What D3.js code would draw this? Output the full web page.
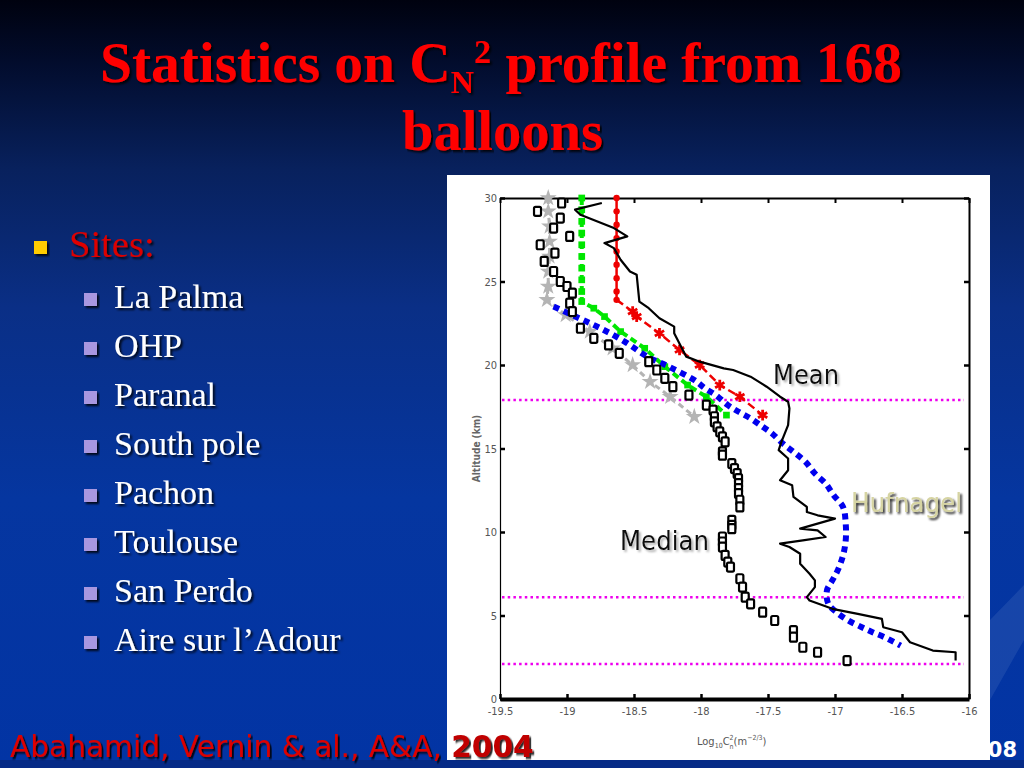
<!DOCTYPE html>
<html>
<head>
<meta charset="utf-8">
<script src="https://cdn.jsdelivr.net/npm/d3@7"></script>
<style>
  body { margin: 0; padding: 0; overflow: hidden; }
  svg { display: block; }
</style>
</head>
<body>
<svg id="slide" width="1024" height="768"></svg>
<script>
// ---- data: [log10 Cn2, altitude km] ----
const sites = ["La Palma", "OHP", "Paranal", "South pole", "Pachon", "Toulouse", "San Perdo", "Aire sur l\u2019Adour"];

const xTicks = [-19.5, -19, -18.5, -18, -17.5, -17, -16.5, -16];
const yTicks = [0, 5, 10, 15, 20, 25, 30];

// reference layers (km)
const layerAlts = [17.9, 6.1, 2.1];

const grayPts = [[-19.14,30],[-19.14,29.2],[-19.13,28.3],[-19.13,27.4],[-19.13,26.5],[-19.14,25.6],[-19.14,24.7],
  [-19.15,23.9],[-19.01,23.0],[-18.83,22.0],[-18.66,21.0],[-18.51,20.0],[-18.38,19.0],[-18.23,18.1],[-18.05,16.9]];

const greenPts = [[-18.89,30],[-18.89,29.3],[-18.89,28.6],[-18.89,27.9],[-18.89,27.2],[-18.89,26.5],[-18.89,25.8],
  [-18.89,25.1],[-18.89,24.4],[-18.89,23.8],[-18.80,23.4],[-18.72,22.9],[-18.60,22.0],[-18.42,21.0],[-18.27,19.9],
  [-18.10,18.8],[-17.96,18.1],[-17.81,17.0]];

const redPts = [[-18.63,30],[-18.63,29.2],[-18.63,28.4],[-18.63,27.6],[-18.63,26.8],[-18.63,26.0],[-18.63,25.2],
  [-18.63,24.4],[-18.63,23.9],[-18.51,23.2],[-18.48,22.9],[-18.31,21.9],[-18.16,20.9],[-18.01,20.0],[-17.86,18.8],
  [-17.71,18.1],[-17.54,17.0]];

const hufnagelPts = [[-19.10,23.5],[-18.91,22.8],[-18.75,22.2],[-18.57,21.4],[-18.40,20.5],[-18.24,19.9],[-18.05,19.1],
  [-17.97,18.6],[-17.89,18.2],[-17.80,17.6],[-17.72,17.2],[-17.63,16.8],[-17.54,16.3],[-17.47,15.9],[-17.39,15.3],
  [-17.31,14.8],[-17.22,14.2],[-17.15,13.5],[-17.07,12.9],[-17.01,12.2],[-16.94,11.5],[-16.92,10.5],[-16.92,9.5],
  [-16.94,8.6],[-16.98,7.7],[-17.02,7.1],[-17.06,6.5],[-17.05,5.7],[-16.99,5.2],[-16.90,4.7],[-16.80,4.3],
  [-16.72,4.0],[-16.63,3.7],[-16.51,3.2]];

const meanPts = [[-18.74,29.7],[-18.94,29.3],[-18.90,29.0],[-18.65,28.2],[-18.55,27.7],[-18.72,27.3],[-18.65,27.0],
  [-18.60,26.3],[-18.53,25.6],[-18.48,25.4],[-18.46,23.8],[-18.39,23.4],[-18.31,22.8],[-18.20,22.3],[-18.20,21.9],
  [-18.11,20.5],[-18.01,20.2],[-17.83,19.8],[-17.76,19.7],[-17.63,19.3],[-17.51,18.7],[-17.41,18.1],[-17.35,17.8],
  [-17.34,17.4],[-17.35,16.4],[-17.40,15.4],[-17.42,14.9],[-17.35,14.4],[-17.35,13.7],[-17.41,13.1],[-17.32,12.8],
  [-17.31,12.1],[-17.21,11.5],[-17.21,11.2],[-17.13,11.0],[-17.00,10.8],[-17.26,10.2],[-17.13,10.1],[-17.07,9.7],
  [-17.24,9.5],[-17.41,9.3],[-17.34,9.1],[-17.26,8.7],[-17.26,8.1],[-17.19,7.5],[-17.15,7.1],[-17.15,6.7],
  [-17.21,6.1],[-17.19,5.9],[-17.02,5.4],[-16.83,5.1],[-16.65,4.8],[-16.64,4.3],[-16.50,4.0],[-16.44,3.4],
  [-16.27,2.9],[-16.10,2.8],[-16.10,2.3]];

const medianPts = [[-19.04,29.7],[-19.22,29.2],[-19.05,28.8],[-19.10,28.2],[-18.98,27.7],[-19.20,27.2],[-19.09,26.7],
  [-19.17,26.2],[-19.10,25.6],[-19.05,25.0],[-19.00,24.7],[-18.96,24.3],[-18.98,23.7],[-18.96,23.2],[-18.90,22.2],
  [-18.80,21.6],[-18.69,21.2],[-18.61,20.7],[-18.39,20.2],[-18.33,19.7],[-18.27,19.2],[-18.21,18.7],[-18.09,18.2],
  [-17.96,17.6],[-17.91,17.3],[-17.90,16.9],[-17.90,16.6],[-17.88,16.3],[-17.86,16.0],[-17.84,15.7],[-17.82,15.4],
  [-17.84,14.8],[-17.84,14.6],[-17.77,14.1],[-17.75,13.8],[-17.73,13.5],[-17.72,13.2],[-17.72,12.9],[-17.72,12.6],
  [-17.72,12.3],[-17.71,11.9],[-17.71,11.5],[-17.77,10.7],[-17.77,10.4],[-17.77,10.2],[-17.84,9.7],[-17.84,9.4],
  [-17.84,9.1],[-17.82,8.6],[-17.80,8.2],[-17.78,7.9],[-17.71,7.2],[-17.69,6.7],[-17.67,6.1],[-17.63,5.7],
  [-17.54,5.2],[-17.45,4.7],[-17.31,4.1],[-17.31,3.7],[-17.24,3.1],[-17.13,2.8],[-16.91,2.3]];

// ---- slide ----
const svg = d3.select("#slide");
const defs = svg.append("defs");

const bg = defs.append("linearGradient").attr("id", "bg").attr("x1", 0).attr("y1", 0).attr("x2", 0).attr("y2", 1);
[["0%", "#00020f"], ["8%", "#020c2c"], ["22%", "#08215d"], ["40%", "#0a2f86"], ["65%", "#0536a0"], ["100%", "#0234a4"]]
  .forEach(s => bg.append("stop").attr("offset", s[0]).attr("stop-color", s[1]));

const sh = defs.append("filter").attr("id", "shadow").attr("x", "-10%").attr("y", "-20%").attr("width", "130%").attr("height", "150%");
sh.append("feDropShadow").attr("dx", 2).attr("dy", 2).attr("stdDeviation", 0.8).attr("flood-color", "#000000").attr("flood-opacity", 0.85);

const shLight = defs.append("filter").attr("id", "shadowLight").attr("x", "-10%").attr("y", "-20%").attr("width", "130%").attr("height", "150%");
shLight.append("feDropShadow").attr("dx", 2).attr("dy", 2).attr("stdDeviation", 0.8).attr("flood-color", "#999999").attr("flood-opacity", 0.8);

svg.append("rect").attr("width", 1024).attr("height", 768).attr("fill", "url(#bg)");
svg.append("path").attr("d", "M990,620 L1024,585 L1024,640 L990,700 Z").attr("fill", "#3b63b8").attr("opacity", 0.35);
svg.append("rect").attr("y", 760).attr("width", 1024).attr("height", 8).attr("fill", "#062a86");

// fit a text node to a given width by horizontal scaling
function fitWidth(sel, x, w) {
  const bb = sel.node().getBBox();
  const k = w / bb.width;
  sel.attr("transform", `translate(${x},0) scale(${k},1) translate(${-bb.x},0)`);
}

// title
const t1 = svg.append("text").attr("y", 82)
  .attr("font-family", "'Liberation Serif', 'Times New Roman', serif").attr("font-weight", "bold")
  .attr("font-size", 57).attr("fill", "#ff0000").attr("filter", "url(#shadow)");
t1.append("tspan").text("Statistics on C");
t1.append("tspan").attr("font-size", 32).attr("dy", 11).text("N");
t1.append("tspan").attr("font-size", 34).attr("dy", -30).text("2");
t1.append("tspan").attr("dy", 19).text(" profile from 168");
fitWidth(t1, 100, 802);

const t2 = svg.append("text").attr("y", 150)
  .attr("font-family", "'Liberation Serif', 'Times New Roman', serif").attr("font-weight", "bold")
  .attr("font-size", 57).attr("fill", "#ff0000").attr("filter", "url(#shadow)").text("balloons");
fitWidth(t2, 402, 201);

// bullets
svg.append("rect").attr("x", 34).attr("y", 241).attr("width", 13).attr("height", 13)
  .attr("fill", "#ffcc00").attr("filter", "url(#shadow)");
svg.append("text").attr("x", 69).attr("y", 257)
  .attr("font-family", "'Liberation Serif', serif").attr("font-size", 38.5)
  .attr("fill", "#dd0000").attr("filter", "url(#shadow)").text("Sites:");

const siteY = d3.scalePoint().domain(sites).range([308, 651]);
const items = svg.append("g").selectAll("g").data(sites).join("g");
items.append("rect").attr("x", 84).attr("y", d => siteY(d) - 15).attr("width", 13).attr("height", 13)
  .attr("fill", "#a897e0").attr("filter", "url(#shadow)");
items.append("text").attr("x", 114).attr("y", d => siteY(d))
  .attr("font-family", "'Liberation Serif', serif").attr("font-size", 34)
  .attr("fill", "#ffffff").attr("filter", "url(#shadow)").text(d => d);

svg.append("text").attr("x", 1017).attr("y", 757).attr("text-anchor", "end")
  .attr("font-family", "'DejaVu Sans', Verdana, sans-serif").attr("font-weight", "bold")
  .attr("font-size", 21).attr("fill", "#ffffff").text("2008");

// ---- chart ----
svg.append("rect").attr("x", 447).attr("y", 175).attr("width", 543).attr("height", 585).attr("fill", "#ffffff");

const margin = { left: 500, right: 969, top: 198, bottom: 699 };
const x = d3.scaleLinear().domain([-19.5, -16]).range([margin.left, margin.right]);
const y = d3.scaleLinear().domain([0, 30]).range([margin.bottom, margin.top]);

const chart = svg.append("g");
const tickFont = "'Liberation Sans Narrow', 'DejaVu Sans Condensed', 'Liberation Sans', sans-serif";

// axes
chart.append("g").attr("transform", `translate(0,${margin.bottom})`)
  .call(d3.axisBottom(x).tickValues(xTicks).tickSizeInner(-5).tickSizeOuter(0).tickPadding(8).tickFormat(d => String(d)))
  .call(g => g.select(".domain").attr("stroke-width", 4))
  .call(g => g.selectAll(".tick line").attr("stroke-width", 2.5))
  .call(g => g.selectAll("text").attr("font-family", tickFont).attr("font-size", 11).attr("fill", "#555"));

chart.append("g").attr("transform", `translate(${margin.left},0)`)
  .call(d3.axisLeft(y).tickValues(yTicks).tickSizeInner(-5).tickSizeOuter(0).tickPadding(3))
  .call(g => g.selectAll(".tick line").attr("stroke-width", 2.5))
  .call(g => g.select(".domain").attr("stroke-width", 1.2))
  .call(g => g.selectAll("text").attr("font-family", tickFont).attr("font-size", 11).attr("fill", "#555"));

chart.append("g").attr("transform", `translate(0,${margin.top})`)
  .call(d3.axisTop(x).tickValues(xTicks).tickSizeInner(-5).tickSizeOuter(0).tickFormat(""))
  .call(g => g.select(".domain").attr("stroke-width", 2))
  .call(g => g.selectAll(".tick line").attr("stroke-width", 2));

chart.append("g").attr("transform", `translate(${margin.right},0)`)
  .call(d3.axisRight(y).tickValues(yTicks).tickSizeInner(-5).tickSizeOuter(0).tickFormat(""))
  .call(g => g.select(".domain").attr("stroke-width", 2))
  .call(g => g.selectAll(".tick line").attr("stroke-width", 2.5));

// axis titles
chart.append("text").attr("transform", `translate(480,${y(15)}) rotate(-90)`)
  .attr("text-anchor", "middle").attr("font-family", tickFont).attr("font-size", 10).attr("font-weight", "bold")
  .attr("fill", "#666").text("Altitude (km)");

const xl = chart.append("text").attr("x", 697).attr("y", 745)
  .attr("font-family", tickFont).attr("font-size", 11).attr("fill", "#555");
xl.append("tspan").text("Log");
xl.append("tspan").attr("font-size", 7).attr("dy", 3).text("10");
xl.append("tspan").attr("dy", -3).text("C");
xl.append("tspan").attr("font-size", 7).attr("dy", -5).text("2");
xl.append("tspan").attr("font-size", 7).attr("dx", -4).attr("dy", 9).text("n");
xl.append("tspan").attr("dy", -4).text("(m");
xl.append("tspan").attr("font-size", 7).attr("dy", -5).text("\u22122/3");
xl.append("tspan").attr("dy", 5).text(")");

// reference layers
chart.append("g").selectAll("line").data(layerAlts).join("line")
  .attr("x1", x(-19.5) + 2).attr("x2", 964).attr("y1", d => y(d)).attr("y2", d => y(d))
  .attr("stroke", "#ee00ee").attr("stroke-width", 2.5).attr("stroke-dasharray", "2.5,3.2");

const line = d3.line().x(d => x(d[0])).y(d => y(d[1]));

// gray site profile
chart.append("path").datum(grayPts).attr("d", line).attr("fill", "none")
  .attr("stroke", "#b4b4b4").attr("stroke-width", 3).attr("stroke-dasharray", "6,4");
chart.append("g").selectAll("path").data(grayPts).join("path")
  .attr("transform", d => `translate(${x(d[0])},${y(d[1])})`)
  .attr("d", d3.symbol(d3.symbolStar, 90)).attr("fill", "#b4b4b4");

// green site profile
chart.append("path").datum(greenPts).attr("d", line).attr("fill", "none")
  .attr("stroke", "#00e600").attr("stroke-width", 4).attr("stroke-dasharray", "7,4");
chart.append("g").selectAll("path").data(greenPts).join("path")
  .attr("transform", d => `translate(${x(d[0])},${y(d[1])})`)
  .attr("d", d3.symbol(d3.symbolSquare, 45)).attr("fill", "#00e600");

// red site profile: solid with dots above the break, dashed with asterisks below
const redTop = redPts.filter(d => d[1] >= 23.9);
const redLow = redPts.filter(d => d[1] <= 23.9);
chart.append("path").datum(redTop).attr("d", line).attr("fill", "none")
  .attr("stroke", "#ee0000").attr("stroke-width", 2.5);
chart.append("g").selectAll("circle").data(redTop).join("circle")
  .attr("cx", d => x(d[0])).attr("cy", d => y(d[1])).attr("r", 3.2).attr("fill", "#ee0000");
chart.append("path").datum(redLow).attr("d", line).attr("fill", "none")
  .attr("stroke", "#ee0000").attr("stroke-width", 2.5).attr("stroke-dasharray", "8,4");
chart.append("g").selectAll("path").data(redLow.slice(1)).join("path")
  .attr("transform", d => `translate(${x(d[0])},${y(d[1])})`)
  .attr("d", d3.symbol(d3.symbolAsterisk, 80)).attr("fill", "none")
  .attr("stroke", "#ee0000").attr("stroke-width", 2.8);

// Hufnagel model
chart.append("path").datum(hufnagelPts).attr("d", d3.line().curve(d3.curveCatmullRom).x(d => x(d[0])).y(d => y(d[1])))
  .attr("fill", "none").attr("stroke", "#0000ee").attr("stroke-width", 6).attr("stroke-dasharray", "6,5");

// mean profile
chart.append("path").datum(meanPts).attr("d", line).attr("fill", "none")
  .attr("stroke", "#000000").attr("stroke-width", 2.2).attr("stroke-linejoin", "round");

// median profile
chart.append("g").selectAll("rect").data(medianPts).join("rect")
  .attr("x", d => x(d[0]) - 3.5).attr("y", d => y(d[1]) - 4.5).attr("width", 7).attr("height", 9)
  .attr("rx", 1.5).attr("fill", "#ffffff").attr("stroke", "#000000").attr("stroke-width", 2.2);

// labels
const labelFont = "Tahoma, 'DejaVu Sans Condensed', 'DejaVu Sans', sans-serif";
chart.append("text").attr("x", 773).attr("y", 384).attr("font-family", labelFont).attr("font-size", 27)
  .attr("textLength", 66).attr("lengthAdjust", "spacingAndGlyphs")
  .attr("fill", "#111").attr("filter", "url(#shadowLight)").text("Mean");
chart.append("text").attr("x", 620).attr("y", 550).attr("font-family", labelFont).attr("font-size", 27)
  .attr("textLength", 89).attr("lengthAdjust", "spacingAndGlyphs")
  .attr("fill", "#111").attr("filter", "url(#shadowLight)").text("Median");
chart.append("text").attr("x", 851).attr("y", 512).attr("font-family", labelFont).attr("font-size", 27)
  .attr("textLength", 111).attr("lengthAdjust", "spacingAndGlyphs")
  .attr("fill", "#d6d4a2").attr("filter", "url(#shadow)").text("Hufnagel");

// footer (drawn over the figure, as on the slide)
const ft = svg.append("text").attr("y", 757)
  .attr("font-family", "'DejaVu Sans', Verdana, sans-serif").attr("font-size", 31)
  .attr("fill", "#dd0000").attr("filter", "url(#shadow)");
ft.append("tspan").text("Abahamid, Vernin & al., A&A, ");
ft.append("tspan").attr("font-weight", "bold").attr("fill", "#c00000").text("2004");
fitWidth(ft, 10, 524);
</script>
</body>
</html>
